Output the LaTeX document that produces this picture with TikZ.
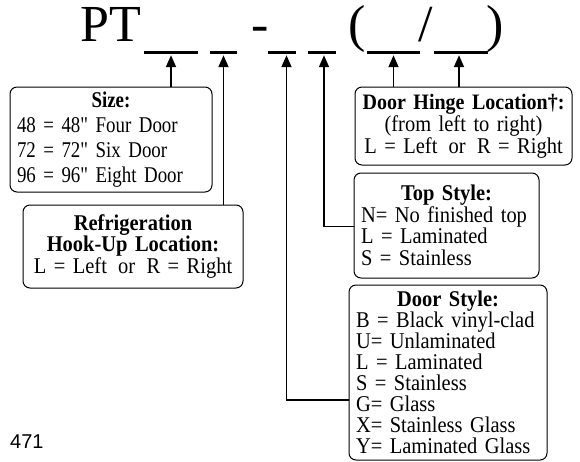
\documentclass[tikz,border=0pt]{standalone}
\usepackage{fontspec}
\setmainfont{Liberation Serif}
\newfontfamily\boxserif{Liberation Serif}[FakeStretch=0.91]
\newfontfamily\narrowserif{Liberation Serif}[FakeStretch=0.84]
\newfontfamily\codesans{Liberation Sans}
\usetikzlibrary{arrows.meta,positioning}
\tikzset{every node/.append style={transform shape=false}}
\newcommand\optline[1]{\mbox{#1}\par}
\newcommand\boxfont[2]{\boxserif\fontsize{#1}{#2}\selectfont}
\tikzset{
  infobox/.style={draw, rounded corners=7pt, line width=1pt, inner xsep=7pt,
    inner ysep=0pt, font=\boxfont{22.5}{21}},
  blank/.style={fill, inner sep=0pt, minimum height=3pt},
  bigchar/.style={inner sep=0pt, font=\fontsize{52}{52}\selectfont},
  arr/.style={line width=1.8pt, -{Triangle[length=12pt,width=10pt]}, shorten >=1.5pt},
  link/.style={line width=1.8pt}
}

\begin{document}
\begin{tikzpicture}[x=1pt,y=1pt]
  \useasboundingbox (0,0) rectangle (580,-461);
  % model code
  \node[bigchar,anchor=base east] (pt) at (141,-41) {PT};
  \node[bigchar,anchor=base] (dash) at (260,-41) {-};
  \node[bigchar,anchor=base] (lpar) at (357,-41) {(};
  \node[bigchar,anchor=base] (slash) at (426,-41) {/};
  \node[bigchar,anchor=base] (rpar) at (495.5,-41) {)};
  \node[blank,minimum width=54pt] (u1) at (171,-52) {};
  \node[blank,minimum width=27pt] (u2) at (223.5,-52) {};
  \node[blank,minimum width=28pt] (u3) at (282,-52) {};
  \node[blank,minimum width=28pt] (u4) at (322,-52) {};
  \node[blank,minimum width=53pt] (u5) at (393.5,-52) {};
  \node[blank,minimum width=54pt] (u6) at (461,-52) {};
  % boxes
  \node[infobox,text width=188pt,minimum height=105pt,align=left,
    font=\narrowserif\fontsize{22.5}{25}\selectfont] (size) at (111,-139.5)
    {\centering\textbf{Size:}\par\raggedright
     \optline{48 = 48" Four Door}\optline{72 = 72" Six Door}\optline{96 = 96" Eight Door}};
  \node[infobox,text width=206pt,minimum height=83pt,align=center,
    font=\boxfont{22.5}{20.5}] (hookup) at (133,-246.5)
    {\textbf{Refrigeration}\\ \textbf{Hook-Up Location:}\\ \mbox{L = Left~\,or~\,R = Right}};
  \node[infobox,inner xsep=4pt,text width=209pt,minimum height=78pt,align=center,
    font=\boxfont{22.5}{22}] (hinge) at (463.5,-126)
    {\mbox{\boxfont{22}{22}\textbf{Door Hinge Location\textdagger:}}\\
     (from left to right)\\ \mbox{L = Left~\,or~\,R = Right}};
  \node[infobox,text width=171pt,minimum height=105pt,align=left,
    font=\boxfont{22.5}{21.5}] (top) at (446.5,-225.5)
    {\centering\textbf{Top Style:}\par\raggedright
     \optline{N= No finished top}\optline{L = Laminated}\optline{S = Stainless}\vspace{4pt}};
  \node[infobox,text width=184pt,minimum height=175pt,align=left,
    font=\boxfont{22.5}{21}] (door) at (448,-372.5)
    {\centering\textbf{Door Style:}\par\raggedright
     \optline{B = Black vinyl-clad}\optline{U= Unlaminated}\optline{L = Laminated}
     \optline{S = Stainless}\optline{G= Glass}\optline{X= Stainless Glass}
     \optline{Y= Laminated Glass}};
  \node[anchor=base west,inner sep=0pt,font=\codesans\fontsize{20}{20}\selectfont]
    (ref) at (10,-448) {471};
  % connectors
  \draw[arr] (size.north -| u1) -- (u1.south);
  \draw[arr] (hookup.north -| u2) -- (u2.south);
  \draw[arr] ([yshift=-27.5pt]door.west) -| ([xshift=4.5pt]u3.south);
  \draw[arr] ([yshift=-1pt]top.west) -| ([xshift=2pt]u4.south);
  \draw[arr] (hinge.north -| u5) -- (u5.south);
  \draw[arr] ([xshift=-2pt]hinge.north -| u6) -- ([xshift=-2pt]u6.south);
\end{tikzpicture}
\end{document}
